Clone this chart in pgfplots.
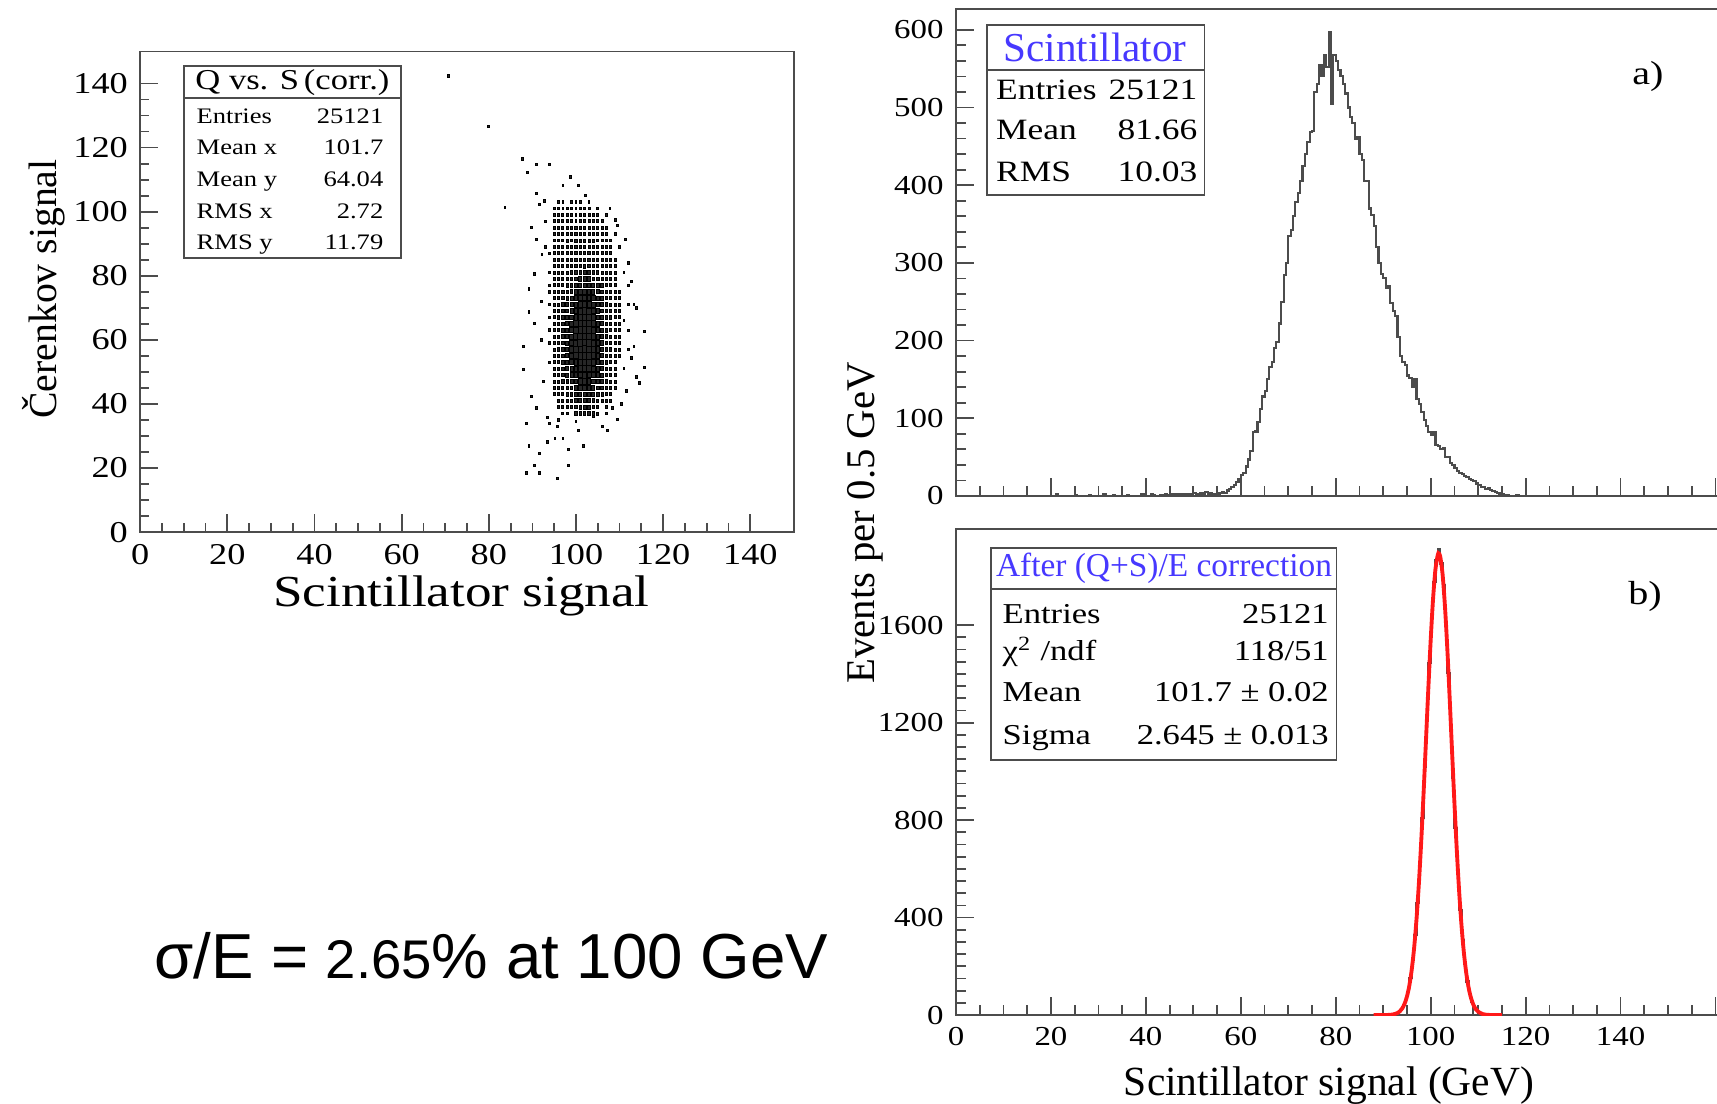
\documentclass[border=0pt]{standalone}
\usepackage{fontspec}
\setmainfont{Liberation Serif}
\newfontfamily\rs{Liberation Serif}[FakeStretch=1.2]
\newfontfamily\arialfont{Liberation Sans}
\usepackage{pgfplots}
\usepackage{pgfplotstable}
\pgfplotsset{compat=1.18}

\definecolor{frame}{gray}{0.3}
\definecolor{histline}{gray}{0.3}
\definecolor{statblue}{rgb}{0.28,0.22,1}
\definecolor{fitred}{rgb}{1,0.1,0.1}

\pgfplotsset{
  rootpad/.style={
    scale only axis, anchor=south west, clip=true,
    axis line style={frame, line width=0.55pt},
    tick style={frame, line width=0.5pt},
    tick align=inside, tick pos=left,
    major tick length=1.9mm, minor tick length=1.0mm,
    /pgf/number format/assume math mode=true,
    /pgf/number format/1000 sep={},
  },
}

% Q vs S 2D histogram: bins of 1 (x) by 2 (y); one column per x bin
\pgfplotstableread{
y c93 c94 c95 c96 c97 c98 c99 c100 c101 c102 c103 c104 c105 c106 c107 c108 c109 c110 c111 c112
103 0 0 0 1 2 0 1 2 1 0 1 0 0 0 0 0 0 0 0 0
101 0 0 3 3 2 3 3 4 4 4 3 0 1 0 0 0 0 0 0 0
99 0 0 4 3 4 4 5 5 5 5 5 4 4 0 1 0 0 0 0 0
97 0 0 4 4 3 4 5 5 6 5 5 4 4 3 0 0 0 0 0 0
95 0 0 5 4 5 5 6 6 6 6 6 5 5 5 4 0 0 0 0 0
93 0 0 5 5 5 5 6 6 7 7 7 6 6 5 4 0 1 0 0 0
91 0 0 4 5 5 6 5 7 7 7 6 6 5 5 5 4 0 0 0 0
89 0 0 5 6 6 6 7 8 9 9 8 8 7 6 6 5 0 1 0 0
87 0 2 6 6 6 7 8 10 11 12 11 10 8 7 6 5 0 0 0 0
85 0 0 6 6 7 7 9 12 15 16 15 12 9 7 6 6 5 0 0 0
83 0 0 6 6 7 8 11 16 21 23 21 16 11 8 7 6 5 0 0 0
81 0 2 6 6 7 10 14 22 29 32 29 22 14 10 7 6 6 0 1 0
79 0 0 6 7 8 12 19 30 41 46 41 30 19 12 8 7 6 0 0 0
77 0 2 6 7 9 14 24 40 56 63 56 40 24 14 9 7 6 0 0 1
75 0 2 6 7 10 17 31 53 75 84 75 53 31 17 10 7 6 6 0 0
73 0 0 6 8 11 20 39 68 97 109 97 68 39 20 11 8 6 6 0 0
71 0 2 7 9 14 25 49 86 123 139 123 86 49 25 14 9 7 7 0 1
69 0 0 7 9 15 29 58 103 148 167 148 103 58 29 15 9 7 7 0 0
67 0 2 7 10 16 33 67 120 172 195 172 120 67 33 16 10 7 7 0 0
65 0 0 7 10 18 37 75 134 193 218 193 134 75 37 18 10 7 7 0 0
63 0 2 7 11 19 39 81 145 209 237 209 145 81 39 19 11 7 7 0 1
61 0 0 7 11 19 41 84 151 218 247 218 151 84 41 19 11 7 7 0 0
59 0 2 7 10 20 40 86 149 221 244 215 153 82 42 18 11 7 7 0 0
57 0 0 7 11 18 40 80 146 207 239 210 143 82 38 19 10 7 7 0 1
55 0 0 7 10 17 38 74 135 192 220 191 135 76 36 18 10 7 7 0 0
53 0 2 6 9 15 32 66 119 171 194 171 119 66 32 15 9 6 0 0 0
51 0 0 6 8 14 28 57 102 147 166 147 102 57 28 14 8 6 0 1 0
49 0 0 6 8 13 24 48 85 122 138 122 85 48 24 13 8 6 0 0 0
47 0 0 6 8 11 20 39 68 97 109 97 68 39 20 11 8 6 0 0 0
45 0 0 5 6 9 16 30 52 74 83 74 52 30 16 9 6 5 0 0 0
43 0 0 5 6 8 13 23 39 55 62 55 39 23 13 8 6 0 0 0 0
41 0 0 0 5 6 10 17 28 39 44 39 28 17 10 6 5 0 0 0 0
39 0 0 0 3 4 7 11 19 26 29 26 19 11 0 4 0 0 0 0 0
37 0 0 0 0 3 4 0 12 17 19 17 12 7 0 2 0 0 0 0 0
}\qscells

% scintillator signal before correction, 0.5 GeV bins (left edges)
\pgfplotstableread{
x y
20 0
21 2
21.5 0
25 1
25.5 0
28 1
28.5 0
31 2
31.5 0
33 1
33.5 0
36 1
36.5 0
39 2
39.5 1
40 0
41 2
41.5 1
42 0
43 1
44 2
44.5 1
45 3
45.5 1
46 2
46.5 3
47 1
47.5 2
48 3
48.5 2
49 3
49.5 2
50 4
50.5 3
51 2
51.5 4
52 3
52.5 5
53 3
53.5 4
54 2
54.5 3
55 2
55.5 4
56 5
56.5 4
57 7
57.5 9
58 11
58.5 14
59 18
59.5 22
60 27
60.5 30
61 38
61.5 47
62 58
62.5 82
63 83
63.5 95
64 112
64.5 128
65 135
65.5 150
66 166
66.5 172
67 190
67.5 198
68 222
68.5 250
69 284
69.5 300
70 335
70.5 342
71 360
71.5 378
72 390
72.5 405
73 425
73.5 440
74 455
74.5 468
75 470
75.5 520
76 530
76.5 555
77 540
77.5 568
78 552
78.5 597
79 505
79.5 568
80 560
80.5 548
81 540
81.5 530
82 518
82.5 500
83 488
83.5 480
84 460
84.5 462
85 440
85.5 432
86 405
86.5 405
87 370
87.5 362
88 348
88.5 320
89 300
89.5 286
90 280
90.5 268
91 270
91.5 248
92 238
92.5 232
93 205
93.5 180
94 172
94.5 168
95 155
95.5 152
96 140
96.5 150
97 125
97.5 118
98 108
98.5 98
99 90
99.5 82
100 78
100.5 82
101 66
101.5 64
102 60
102.5 62
103 50
103.5 50
104 42
104.5 40
105 36
105.5 32
106 30
106.5 28
107 26
107.5 24
108 22
108.5 20
109 19
109.5 16
110 14
110.5 12
111 11
111.5 9
112 10
112.5 8
113 6
113.5 5
114 4
114.5 3
115 2
115.5 1
116 1
116.5 0
118 1
118.5 0
130 0
}\scinthist

% after (Q+S)/E correction, 0.5 GeV bins around the peak
\pgfplotstableread{
x y
95 97
95.5 151
96 227
96.5 329
97 460
97.5 621
98 809
98.5 1017
99 1233
99.5 1443
100 1629
100.5 1776
101 1867
101.5 1912
102 1853
102.5 1765
103 1595
103.5 1403
104 1190
104.5 974
105 769
105.5 587
106 431
106.5 306
107 210
107.5 138
108 88
108.5 54
109 0
}\corrhist

% Gaussian fit: mean 101.7, sigma 2.645
\pgfplotstableread{
x y
88 0
89 0
90 0.1
91 0.6
92 2.3
93 8.5
93.5 15.5
94 27.3
94.5 46.6
95 76.5
95.5 121
96 186
96.5 274
97 391
97.5 537
98 712
98.5 911
99 1125
99.5 1340
100 1540
100.5 1709
101 1829
101.5 1889
101.7 1894
102 1882
102.5 1809
103 1678
103.5 1503
104 1298
104.5 1081
105 870
105.5 675
106 505
106.5 365
107 254
107.5 171
108 111
108.5 69.5
109 42
109.5 24.5
110 13.8
111 3.9
112 1.0
113 0.2
114 0
115 0
}\gausfit

\begin{document}
\begin{tikzpicture}[x=1mm,y=1mm]
\path[use as bounding box] (0,0) rectangle (171.7,110.4);
\clip (0,0) rectangle (171.7,110.4);

% ---------------- Q vs S scatter ----------------
\begin{axis}[rootpad,
  at={(14.02mm,57.18mm)}, width=65.37mm, height=48.07mm,
  xmin=0, xmax=150, ymin=0, ymax=150,
  xtick={0,20,...,140}, ytick={0,20,...,140},
  minor x tick num=3, minor y tick num=3,
  major tick length=1.8mm, minor tick length=0.9mm,
  tick label style={font=\rs\fontsize{8.6}{10}\selectfont},
]
\pgfplotsinvokeforeach{93,...,112}{
  \addplot[scatter, only marks, mark=square*, point meta=y,
    restrict expr to domain={\thisrow{c#1}}{0.5:100000},
    scatter/use mapped color={draw=none, fill=black!85},
    mark options={draw=none, line width=0pt, fill=black!85, yscale=1.45},
    visualization depends on={\thisrow{c#1} \as \cnt},
    scatter/@pre marker code/.append style={/tikz/mark size={0.21+0.5*sqrt(\cnt/250)}}]
    table[x expr=#1, y=y] {\qscells};
}
\addplot[only marks, mark=square*, mark size=0.09mm,
  mark options={draw=none, line width=0pt, fill=black!85, yscale=1.3}] coordinates {
  (70.8,142.4) (79.9,126.5) (83.7,101.4) (87.7,116.5) (88.8,112.3)
  (91,114.7) (94,114.7) (98.8,110.8) (97,108.1) (100.6,108.1)
  (91,105.7) (102.2,105.1) (91.6,102.2) (92.8,103.3) (107.8,101)
  (109,97.4) (109.6,95.6) (111.4,91.4) (89.8,95) (91,91.4) (92.2,86.6)
  (112.7,78.3) (113.3,71.1) (113.9,69.9) (115.7,62.7) (113.3,57.9)
  (112.7,54.4) (115.7,51.4) (113.9,48.4) (114.5,46.6) (87.9,57.9)
  (87.9,50.8) (89.2,75.9) (90.4,80.6) (89.2,68.7) (90.4,65.1)
  (89.8,42.4) (91,38.8) (88.6,34) (89.2,26.9) (90.4,20.9) (91.6,18.5)
  (95.8,16.7) (91.6,24.5) (93.4,28.1) (95.2,29.3) (97,29.3) (98.2,25.7)
  (98.2,20.9) (94,34) (95.8,32.9) (100.6,31.7) (107.2,31.7) (109.6,35.2)
  (108.4,38.8) (93.4,35.8) (100,34.6) (88.6,18.5) (101.8,26.9)
  (92,60) (92,72) (92.5,47) (112,84) (111,66) (111.5,44) (110.5,40)
  (93,89) (93,97) (106,33) (104,36) (96,35)
};
\end{axis}

% ---------------- a) raw scintillator signal ----------------
\begin{axis}[rootpad,
  at={(95.6mm,60.8mm)}, width=94.94mm, height=48.72mm,
  xmin=0, xmax=200, ymin=0, ymax=627,
  xtick={0,20,...,200}, xticklabels={{},{},{},{},{},{},{},{},{},{},{}},
  ytick={0,100,...,600},
  minor x tick num=3, minor y tick num=4,
  major tick length=1.8mm, minor tick length=1.0mm,
  tick label style={font=\rs\fontsize{7.8}{9}\selectfont},
]
\addplot[const plot mark left, histline, line width=0.6pt] table[x=x, y=y] {\scinthist};
\end{axis}

% ---------------- b) after correction ----------------
\begin{axis}[rootpad,
  at={(95.6mm,8.89mm)}, width=94.94mm, height=48.62mm,
  xmin=0, xmax=200, ymin=0, ymax=1995,
  xtick={0,20,...,200},
  xticklabels={0,20,40,60,80,100,120,140,{},{},{}},
  ytick={0,400,...,1600},
  minor x tick num=3, minor y tick num=7,
  major tick length=1.8mm, minor tick length=1.0mm,
  tick label style={font=\rs\fontsize{7.8}{9}\selectfont},
]
\addplot[const plot mark left, histline, line width=0.6pt] table[x=x, y=y] {\corrhist};
\addplot[smooth, fitred, line width=1.1pt] table[x=x, y=y] {\gausfit};
\end{axis}

% ---------------- axis titles ----------------
\node[anchor=base, font=\rs\fontsize{12.6}{14}\selectfont] at (46.15,49.76) {Scintillator signal};
\node[rotate=90, font=\fontsize{11.3}{13}\selectfont] at (4.4,81.5) {Čerenkov signal};
\node[rotate=90, anchor=base, font=\fontsize{11.6}{13}\selectfont] at (87.4,58.1) {Events per 0.5 GeV};
\node[anchor=base, font=\fontsize{11.8}{13}\selectfont] at (132.9,0.86) {Scintillator signal (GeV)};

% ---------------- statistics boxes ----------------
\draw[frame, line width=0.5pt, fill=white] (18.4,84.6) rectangle (40.07,103.8);
\draw[frame, line width=0.5pt] (18.4,100.57) -- (40.07,100.57);
\node[font=\rs\fontsize{8.2}{10}\selectfont, inner sep=0] at (29.24,102.15) {Q vs. S\,(corr.)};
\begin{scope}[every node/.style={font=\rs\fontsize{6.3}{8}\selectfont, inner sep=0}]
  \node[anchor=mid west] at (19.6,98.9) {Entries}; \node[anchor=mid east] at (38.4,98.9) {25121};
  \node[anchor=mid west] at (19.6,95.75) {Mean x}; \node[anchor=mid east] at (38.4,95.75) {101.7};
  \node[anchor=mid west] at (19.6,92.6) {Mean y}; \node[anchor=mid east] at (38.4,92.6) {64.04};
  \node[anchor=mid west] at (19.6,89.4) {RMS x}; \node[anchor=mid east] at (38.4,89.4) {2.72};
  \node[anchor=mid west] at (19.6,86.25) {RMS y}; \node[anchor=mid east] at (38.4,86.25) {11.79};
\end{scope}

\draw[frame, line width=0.5pt, fill=white] (98.7,90.9) rectangle (120.46,107.9);
\draw[frame, line width=0.5pt] (98.7,103.4) -- (120.46,103.4);
\node[font=\fontsize{11.7}{13}\selectfont, text=statblue, inner sep=0] at (109.5,105.65) {Scintillator};
\begin{scope}[every node/.style={font=\rs\fontsize{8.4}{10}\selectfont, inner sep=0}]
  \node[anchor=mid west] at (99.55,101.23) {Entries}; \node[anchor=mid east] at (119.8,101.23) {25121};
  \node[anchor=mid west] at (99.55,97.23) {Mean}; \node[anchor=mid east] at (119.8,97.23) {81.66};
  \node[anchor=mid west] at (99.55,93.07) {RMS}; \node[anchor=mid east] at (119.8,93.07) {10.03};
\end{scope}
\node[font=\rs\fontsize{9.5}{11}\selectfont] at (164.8,102.73) {a)};

\draw[frame, line width=0.5pt, fill=white] (99.1,34.38) rectangle (133.66,55.61);
\draw[frame, line width=0.5pt] (99.1,51.51) -- (133.66,51.51);
\node[font=\fontsize{9.5}{11}\selectfont, text=statblue, inner sep=0] at (116.4,53.56) {After (Q+S)/E correction};
\begin{scope}[every node/.style={font=\rs\fontsize{8.2}{10}\selectfont, inner sep=0}]
  \node[anchor=mid west] at (100.2,48.9) {Entries}; \node[anchor=mid east] at (132.94,48.9) {25121};
  \node[anchor=mid west] at (100.2,45.18) {χ\textsuperscript{2} /ndf}; \node[anchor=mid east] at (132.94,45.18) {118/51};
  \node[anchor=mid west] at (100.2,41.08) {Mean}; \node[anchor=mid east] at (132.94,41.08) {101.7 ± 0.02};
  \node[anchor=mid west] at (100.2,36.8) {Sigma}; \node[anchor=mid east] at (132.94,36.8) {2.645 ± 0.013};
\end{scope}
\node[font=\rs\fontsize{9.5}{11}\selectfont] at (164.5,50.76) {b)};

% ---------------- resolution statement ----------------
\node[anchor=base west, inner sep=0, font=\arialfont\fontsize{18.1}{21}\selectfont] at (15.34,12.57)
  {σ/E = {\fontsize{15.5}{18}\selectfont 2.65}\% at 100 GeV};
\end{tikzpicture}
\end{document}
